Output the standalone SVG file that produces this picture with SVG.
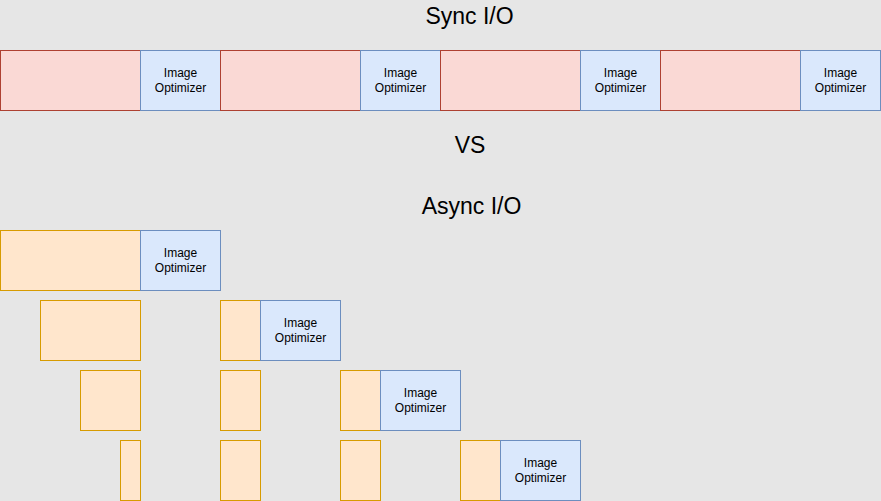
<svg xmlns="http://www.w3.org/2000/svg" width="881" height="501" viewBox="0 0 881 501">
<style>
.s{fill:#fad9d5;stroke:#ae4132;stroke-width:1}
.b{fill:#dae8fc;stroke:#6c8ebf;stroke-width:1}
.a{fill:#ffe6cc;stroke:#d79b00;stroke-width:1}
.t{font-family:"Liberation Sans",Arial,sans-serif;font-size:12px;fill:#000;text-anchor:middle}
.h{font-family:"Liberation Sans",Arial,sans-serif;font-size:23px;fill:#000;text-anchor:middle}
</style>
<rect x="0" y="0" width="881" height="501" fill="#e6e6e6"/>
<text class="h" x="469.5" y="23.5">Sync I/O</text>
<text class="h" x="470" y="153">VS</text>
<text class="h" x="471.5" y="213.5">Async I/O</text>
<g id="sync">
<g id="s1"><rect class="s" x="0.5" y="50.5" width="140" height="60"/></g>
<g id="sb1"><rect class="b" x="140.5" y="50.5" width="80" height="60"/><text class="t" x="180.5" y="77">Image</text><text class="t" x="180.5" y="92">Optimizer</text></g>
<g id="s2"><rect class="s" x="220.5" y="50.5" width="140" height="60"/></g>
<g id="sb2"><rect class="b" x="360.5" y="50.5" width="80" height="60"/><text class="t" x="400.5" y="77">Image</text><text class="t" x="400.5" y="92">Optimizer</text></g>
<g id="s3"><rect class="s" x="440.5" y="50.5" width="140" height="60"/></g>
<g id="sb3"><rect class="b" x="580.5" y="50.5" width="80" height="60"/><text class="t" x="620.5" y="77">Image</text><text class="t" x="620.5" y="92">Optimizer</text></g>
<g id="s4"><rect class="s" x="660.5" y="50.5" width="140" height="60"/></g>
<g id="sb4"><rect class="b" x="800.5" y="50.5" width="80" height="60"/><text class="t" x="840.5" y="77">Image</text><text class="t" x="840.5" y="92">Optimizer</text></g>
</g>
<g id="async">
<g id="a1"><rect class="a" x="0.5" y="230.5" width="140" height="60"/></g>
<g id="ab1"><rect class="b" x="140.5" y="230.5" width="80" height="60"/><text class="t" x="180.5" y="257">Image</text><text class="t" x="180.5" y="272">Optimizer</text></g>
<g id="a2a"><rect class="a" x="40.5" y="300.5" width="100" height="60"/></g>
<g id="a2b"><rect class="a" x="220.5" y="300.5" width="40" height="60"/></g>
<g id="ab2"><rect class="b" x="260.5" y="300.5" width="80" height="60"/><text class="t" x="300.5" y="327">Image</text><text class="t" x="300.5" y="342">Optimizer</text></g>
<g id="a3a"><rect class="a" x="80.5" y="370.5" width="60" height="60"/></g>
<g id="a3b"><rect class="a" x="220.5" y="370.5" width="40" height="60"/></g>
<g id="a3c"><rect class="a" x="340.5" y="370.5" width="40" height="60"/></g>
<g id="ab3"><rect class="b" x="380.5" y="370.5" width="80" height="60"/><text class="t" x="420.5" y="397">Image</text><text class="t" x="420.5" y="412">Optimizer</text></g>
<g id="a4a"><rect class="a" x="120.5" y="440.5" width="20" height="60"/></g>
<g id="a4b"><rect class="a" x="220.5" y="440.5" width="40" height="60"/></g>
<g id="a4c"><rect class="a" x="340.5" y="440.5" width="40" height="60"/></g>
<g id="a4d"><rect class="a" x="460.5" y="440.5" width="40" height="60"/></g>
<g id="ab4"><rect class="b" x="500.5" y="440.5" width="80" height="60"/><text class="t" x="540.5" y="467">Image</text><text class="t" x="540.5" y="482">Optimizer</text></g>
</g>
<g id="connectors"></g>
</svg>
